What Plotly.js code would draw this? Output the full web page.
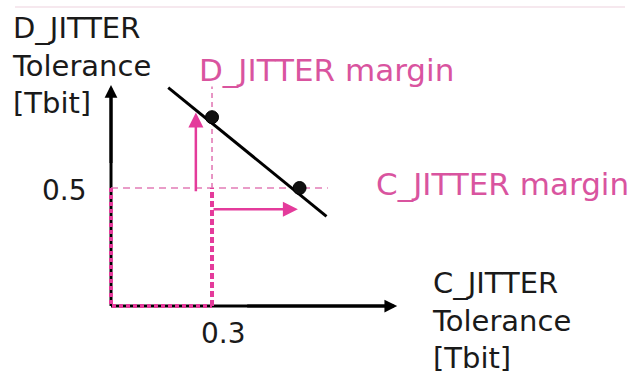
<!DOCTYPE html>
<html>
<head>
<meta charset="utf-8">
<script src="https://cdn.plot.ly/plotly-3.0.1.min.js"></script>
<style>html,body{margin:0;padding:0;background:#fff;}#chart{width:636px;height:376px;}</style>
</head>
<body>
<div id="chart"></div>
<script>
// ---- data (schematic values) ----
const toleranceLineX = [0.17, 0.64];
const toleranceLineY = [0.925, 0.38];
const pointX = [0.3, 0.56];
const pointY = [0.8, 0.5];
const cJitterSpec = 0.3;   // x threshold
const dJitterSpec = 0.5;   // y threshold
const xTickVals = [0.3];
const yTickVals = [0.5];
const xTickText = ['0.3'];
const yTickText = ['0.5'];
const dMarginArrowX = 0.252, dMarginArrowY = [0.48, 0.82];
const cMarginArrowY = 0.41, cMarginArrowX = [0.3, 0.555];
const axisTipX = 0.85, axisTipY = 0.936;

const pink = '#e43b9b';
const pinkText = '#d9549f';
const pinkLight = '#e27cb6';
const F = 'DejaVu Sans';

const traces = [
  // axes (black)
  {x:[0,0], y:[0,axisTipY-0.03], mode:'lines', line:{color:'#000',width:3}, hoverinfo:'skip'},
  {x:[0,axisTipX-0.03], y:[0,0], mode:'lines', line:{color:'#000',width:3}, hoverinfo:'skip'},
  // thin dashed threshold lines
  {x:[0,0.644], y:[dJitterSpec,dJitterSpec], mode:'lines', line:{color:pinkLight,width:1.6,dash:'7px,5px'}, hoverinfo:'skip'},
  {x:[cJitterSpec,cJitterSpec], y:[dJitterSpec,0.93], mode:'lines', line:{color:pinkLight,width:1.6,dash:'5px,4px'}, hoverinfo:'skip'},
  // thick region edges
  {x:[cJitterSpec,cJitterSpec], y:[0,dJitterSpec], mode:'lines', line:{color:pink,width:4,dash:'6px,3px'}, hoverinfo:'skip'},
  {x:[0,0,cJitterSpec], y:[dJitterSpec,0,0], mode:'lines', line:{color:pink,width:4,dash:'4px,3px'}, hoverinfo:'skip'},
  // tolerance line and points
  {x:toleranceLineX, y:toleranceLineY, mode:'lines', line:{color:'#000',width:3}, hoverinfo:'skip'},
  {x:pointX, y:pointY, mode:'markers', marker:{color:'#111',size:13,line:{color:'#000',width:1}}, hoverinfo:'skip'}
];

const arrow = (x,y,ax,ay,color,w,size) => ({x:x,y:y,ax:ax,ay:ay,xref:'x',yref:'y',axref:'x',ayref:'y',
  text:'',showarrow:true,arrowhead:2,arrowsize:size,arrowwidth:w,arrowcolor:color,standoff:0,startstandoff:0});
const label = (txt,px,py,color,size,anchor) => ({x:px/636,y:1-py/376,xref:'paper',yref:'paper',text:txt,
  showarrow:false,xanchor:anchor||'left',yanchor:'middle',align:'left',font:{family:F,size:size,color:color}});

const annotations = [
  arrow(0, axisTipY, 0, 0.6, '#000', 3, 0.85),
  arrow(axisTipX, 0, 0.4, 0, '#000', 3, 0.85),
  arrow(dMarginArrowX, dMarginArrowY[1], dMarginArrowX, dMarginArrowY[0], pink, 2.5, 1.2),
  arrow(cMarginArrowX[1], cMarginArrowY, cMarginArrowX[0], cMarginArrowY, pink, 2.5, 1.2),
  label('D_JITTER<br>Tolerance<br>[Tbit]', 10, 66, '#1a1a1a', 29),
  label('C_JITTER<br>Tolerance<br>[Tbit]', 430, 320, '#1a1a1a', 29),
  label('D_JITTER margin', 197, 70, pinkText, 31),
  label('C_JITTER margin', 374, 184, pinkText, 31),
  label(yTickText[0], 40, 190, '#1a1a1a', 28),
  label(xTickText[0], 199, 333, '#1a1a1a', 28)
];

const layout = {
  width:636, height:376, margin:{l:0,r:0,t:0,b:0},
  paper_bgcolor:'#fff', plot_bgcolor:'#fff', showlegend:false,
  xaxis:{range:[-0.3297,1.5593], visible:false, fixedrange:true},
  yaxis:{range:[-0.2966,1.2966], visible:false, fixedrange:true},
  annotations: annotations,
  shapes:[{type:'line',xref:'paper',yref:'paper',x0:15/636,x1:625/636,y0:1-7/376,y1:1-7/376,line:{color:'#f6e8ee',width:2}}]
};

Plotly.newPlot('chart', traces, layout, {staticPlot:true, displayModeBar:false});
</script>
</body>
</html>
